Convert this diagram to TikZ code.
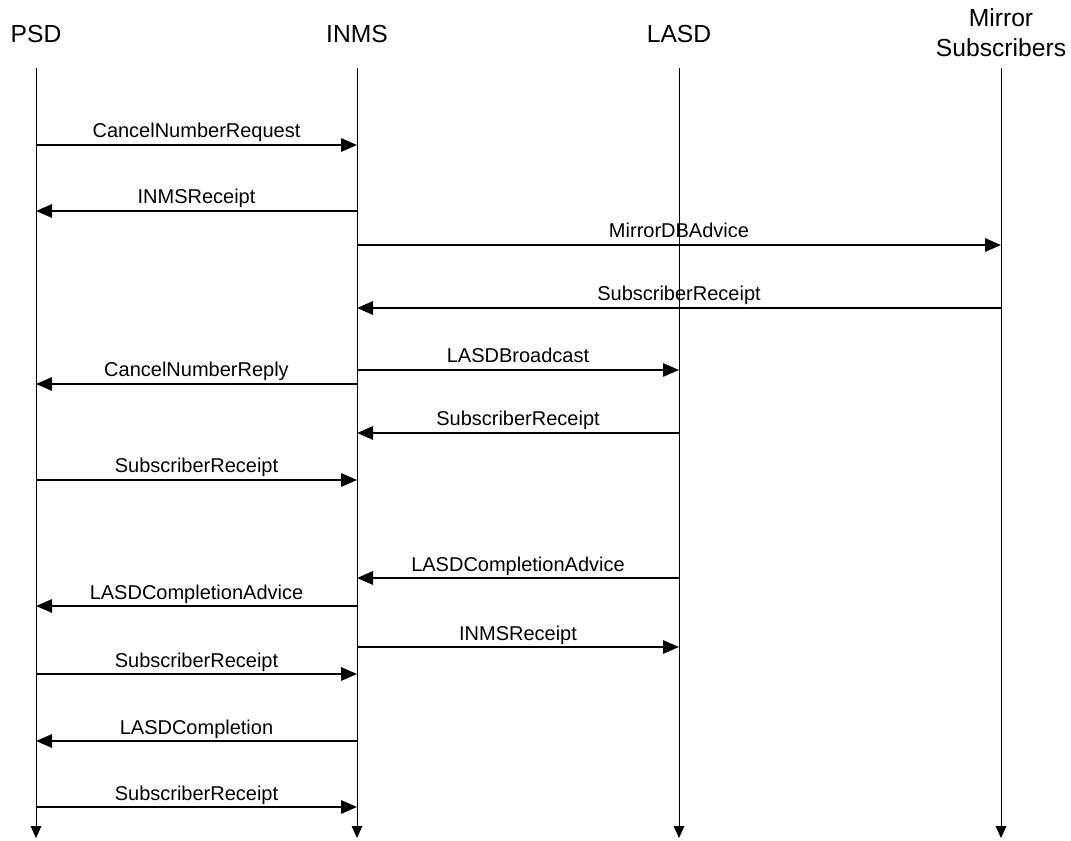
\documentclass[tikz,border=0pt]{standalone}
\usepackage{fontspec}
\setmainfont{Liberation Sans}
\usetikzlibrary{arrows.meta, positioning}

\tikzset{
  actor/.style={anchor=base, inner sep=0pt, font=\fontsize{18.5}{22.5}\selectfont, align=center},
  life/.style={line width=0.75pt, -{Triangle[length=9pt, width=8pt]}},
  msg/.style={line width=1.5pt, -{Triangle[length=12pt, width=10pt]}},
  lbl/.style={midway, anchor=base, yshift=5.25pt, inner sep=0pt, font=\fontsize{15}{18}\selectfont}
}

\begin{document}
\begin{tikzpicture}[x=0.75pt, y=-0.75pt]
  \useasboundingbox (0,0) rectangle (1071,841);
  % Actores
  \node[actor] (psdname) at (36,43) {PSD};
  \node[actor] (inmsname) at (357,43) {INMS};
  \node[actor] (lasdname) at (679,43) {LASD};
  \node[actor] (mirrorname) at (1001,57) {Mirror\\Subscribers};
  \coordinate (psd) at (36,68);
  \coordinate (inms) at (357,68);
  \coordinate (lasd) at (679,68);
  \coordinate (mirror) at (1001,68);
  % Lineas de vida
  \foreach \a in {psd, inms, lasd, mirror}
    \draw[life] (\a) -- (\a |- 0,838);
  % Mensajes
  \foreach \y/\from/\to/\txt in {
      145/psd/inms/CancelNumberRequest,
      211/inms/psd/INMSReceipt,
      245/inms/mirror/MirrorDBAdvice,
      308/mirror/inms/SubscriberReceipt,
      370/inms/lasd/LASDBroadcast,
      384/inms/psd/CancelNumberReply,
      433/lasd/inms/SubscriberReceipt,
      480/psd/inms/SubscriberReceipt,
      578/lasd/inms/LASDCompletionAdvice,
      606/inms/psd/LASDCompletionAdvice,
      647/inms/lasd/INMSReceipt,
      674/psd/inms/SubscriberReceipt,
      741/inms/psd/LASDCompletion,
      807/psd/inms/SubscriberReceipt}
    \draw[msg] (\from |- 0,\y) -- node[lbl] {\txt} (\to |- 0,\y);
\end{tikzpicture}
\end{document}
